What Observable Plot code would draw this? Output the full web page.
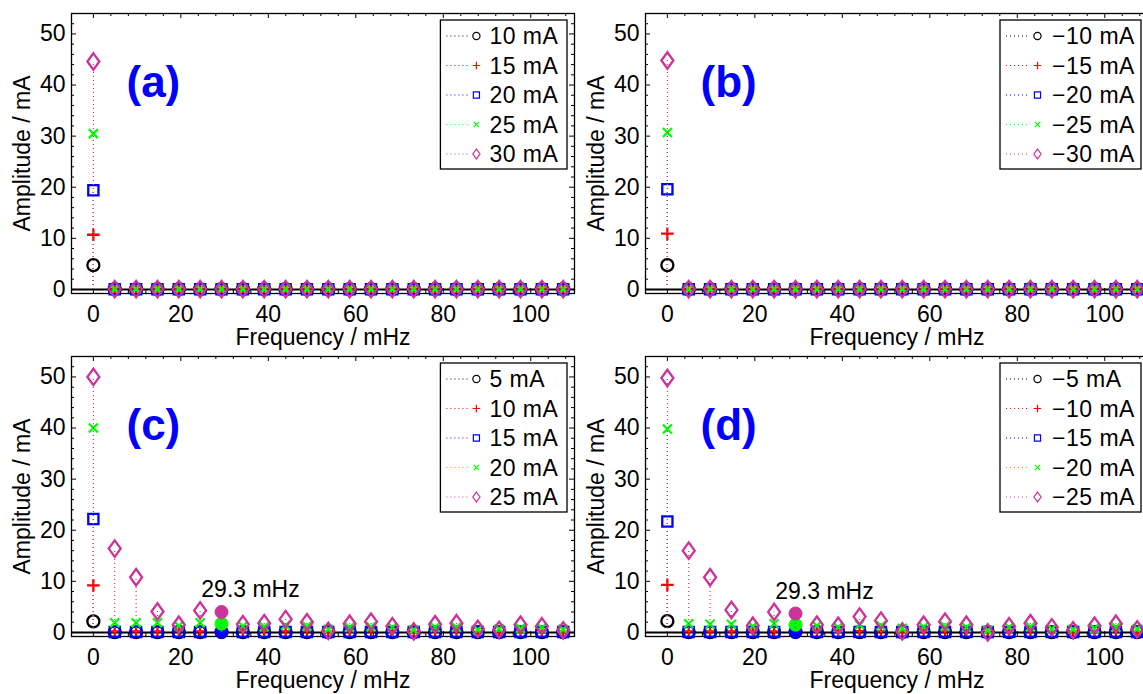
<!DOCTYPE html>
<html><head><meta charset="utf-8">
<script src="https://cdn.jsdelivr.net/npm/d3@7"></script>
<script src="https://cdn.jsdelivr.net/npm/@observablehq/plot@0.6"></script>
<style>
html,body{margin:0;padding:0;background:#fff;width:1143px;height:694px;overflow:hidden;}
#wrap{position:relative;width:1143px;height:694px;overflow:hidden;background:#fff;}
.panel{position:absolute;width:576px;height:351px;}
</style></head><body><div id="wrap"></div>
<script>
// ---------- data ----------
const freq = [0, 4.88, 9.77, 14.65, 19.53, 24.41, 29.30, 34.18, 39.06, 43.95, 48.83, 53.71, 58.59, 63.48, 68.36, 73.24, 78.13, 83.01, 87.89, 92.77, 97.66, 102.54, 107.42];

const a10 = [4.75, 0.03,0.03,0.03,0.03,0.03,0.03,0.03,0.03,0.03,0.03,0.03,0.03,0.03,0.03,0.03,0.03,0.03,0.03,0.03,0.03,0.03,0.03];
const a15 = [10.7, 0.04,0.04,0.04,0.04,0.04,0.04,0.04,0.04,0.04,0.04,0.04,0.04,0.04,0.04,0.04,0.04,0.04,0.04,0.04,0.04,0.04,0.04];
const a20 = [19.4, 0.05,0.05,0.05,0.05,0.05,0.05,0.05,0.05,0.05,0.05,0.05,0.05,0.05,0.05,0.05,0.05,0.05,0.05,0.05,0.05,0.05,0.05];
const a25 = [30.5, 0.06,0.06,0.06,0.06,0.06,0.06,0.06,0.06,0.06,0.06,0.06,0.06,0.06,0.06,0.06,0.06,0.06,0.06,0.06,0.06,0.06,0.06];
const a30 = [44.6, 0.07,0.07,0.07,0.07,0.07,0.07,0.07,0.07,0.07,0.07,0.07,0.07,0.07,0.07,0.07,0.07,0.07,0.07,0.07,0.07,0.07,0.07];

const b10 = [4.75, 0.03,0.03,0.03,0.03,0.03,0.03,0.03,0.03,0.03,0.03,0.03,0.03,0.03,0.03,0.03,0.03,0.03,0.03,0.03,0.03,0.03,0.03];
const b15 = [10.9, 0.04,0.04,0.04,0.04,0.04,0.04,0.04,0.04,0.04,0.04,0.04,0.04,0.04,0.04,0.04,0.04,0.04,0.04,0.04,0.04,0.04,0.04];
const b20 = [19.6, 0.05,0.05,0.05,0.05,0.05,0.05,0.05,0.05,0.05,0.05,0.05,0.05,0.05,0.05,0.05,0.05,0.05,0.05,0.05,0.05,0.05,0.05];
const b25 = [30.7, 0.06,0.06,0.06,0.06,0.06,0.06,0.06,0.06,0.06,0.06,0.06,0.06,0.06,0.06,0.06,0.06,0.06,0.06,0.06,0.06,0.06,0.06];
const b30 = [44.8, 0.07,0.07,0.07,0.07,0.07,0.07,0.07,0.07,0.07,0.07,0.07,0.07,0.07,0.07,0.07,0.07,0.07,0.07,0.07,0.07,0.07,0.07];

const c05 = [2.15, 0.05,0.05,0.05,0.05,0.05,0.05,0.05,0.05,0.05,0.05,0.05,0.05,0.05,0.05,0.05,0.05,0.05,0.05,0.05,0.05,0.05,0.05];
const c10 = [9.2, 0.2,0.2,0.2,0.25,0.2,0.15,0.2,0.25,0.2,0.2,0.15,0.2,0.2,0.2,0.15,0.2,0.2,0.15,0.2,0.2,0.2,0.15];
const c15 = [22.2, 0.1,0.1,0.1,0.1,0.1,0.1,0.1,0.1,0.1,0.1,0.1,0.1,0.1,0.1,0.1,0.1,0.1,0.1,0.1,0.1,0.1,0.1];
const c20 = [40.0, 1.9,1.9,1.9,1.3,1.9,1.7,1.2,1.1,1.4,1.2,0.6,1.0,1.1,1.0,0.5,1.0,1.0,0.5,0.7,0.8,0.9,0.6];
const c25 = [50.0, 16.4,10.8,4.1,1.5,4.3,4.0,1.6,1.8,2.6,2.0,0.3,1.7,2.1,1.2,0.2,1.6,1.8,0.7,0.5,1.5,1.2,0.4];

const d05 = [2.2, 0.05,0.05,0.05,0.05,0.05,0.05,0.05,0.05,0.05,0.05,0.05,0.05,0.05,0.05,0.05,0.05,0.05,0.05,0.05,0.05,0.05,0.05];
const d10 = [9.3, 0.2,0.2,0.2,0.2,0.2,0.15,0.2,0.2,0.25,0.2,0.15,0.2,0.2,0.2,0.15,0.2,0.2,0.15,0.2,0.2,0.2,0.15];
const d15 = [21.7, 0.1,0.1,0.1,0.1,0.1,0.1,0.1,0.1,0.1,0.1,0.1,0.1,0.1,0.1,0.1,0.1,0.1,0.1,0.1,0.1,0.1,0.1];
const d20 = [39.8, 1.7,1.6,1.6,1.2,1.7,1.5,1.3,1.0,1.5,1.3,0.8,1.1,1.2,1.0,0.4,1.0,1.1,0.7,0.6,0.8,1.0,0.7];
const d25 = [49.8, 16.0,10.8,4.4,1.3,4.0,3.7,1.5,1.3,3.1,2.3,0.2,1.5,2.1,1.5,0.0,1.2,1.8,1.0,0.4,1.3,1.7,0.6];

const labelsA = ["10 mA", "15 mA", "20 mA", "25 mA", "30 mA"];
const labelsB = ["\u221210 mA", "\u221215 mA", "\u221220 mA", "\u221225 mA", "\u221230 mA"];
const labelsC = ["5 mA", "10 mA", "15 mA", "20 mA", "25 mA"];
const labelsD = ["\u22125 mA", "\u221210 mA", "\u221215 mA", "\u221220 mA", "\u221225 mA"];

const xMajor = [0, 20, 40, 60, 80, 100];
const xMinor = [4,8,12,16,24,28,32,36,44,48,52,56,64,68,72,76,84,88,92,96,104,108];
const yMajor = [0, 10, 20, 30, 40, 50];
const yMinor = [2,4,6,8,12,14,16,18,22,24,26,28,32,34,36,38,42,44,46,48,52];

const peakIndex = 6; // 29.3 mHz

// ---------- styling ----------
const colors = ["#000000", "#ff0000", "#0000ff", "#00ff00", "#cc3399"];
const symCircle = {draw(c, s){ const r = Math.sqrt(s/Math.PI); c.moveTo(r,0); c.arc(0,0,r,0,2*Math.PI); }};
const symPlus = {draw(c, s){ const r = Math.sqrt(s/Math.PI)*1.05; c.moveTo(-r,0); c.lineTo(r,0); c.moveTo(0,-r); c.lineTo(0,r); }};
const symSquare = {draw(c, s){ const r = Math.sqrt(s/Math.PI)*0.85; c.rect(-r,-r,2*r,2*r); }};
const symTimes = {draw(c, s){ const r = Math.sqrt(s/Math.PI)*0.75; c.moveTo(-r,-r); c.lineTo(r,r); c.moveTo(-r,r); c.lineTo(r,-r); }};
const symDiamond = {draw(c, s){ const r = Math.sqrt(s/Math.PI); c.moveTo(0,-1.37*r); c.lineTo(r,0); c.lineTo(0,1.37*r); c.lineTo(-r,0); c.closePath(); }};
const symbols = [symCircle, symPlus, symSquare, symTimes, symDiamond];

const W = 576, H = 351, ML = 71, MR = 2, MT = 13, MB = 58;
const PW = W - ML - MR, PH = H - MT - MB;
const FONT = "'Liberation Sans', Arial, Helvetica, sans-serif";

function makePanel(cfg) {
  const marks = [];
  marks.push(Plot.frame({stroke: "black", strokeWidth: 1.3}));
  // inward ticks, all four sides
  marks.push(Plot.ruleX(xMajor, {x: d => d, insetTop: PH - 5, stroke: "black", strokeWidth: 1}));
  marks.push(Plot.ruleX(xMinor, {x: d => d, insetTop: PH - 3, stroke: "black", strokeWidth: 1}));
  marks.push(Plot.ruleX(xMajor, {x: d => d, insetBottom: PH - 5, stroke: "black", strokeWidth: 1}));
  marks.push(Plot.ruleX(xMinor, {x: d => d, insetBottom: PH - 3, stroke: "black", strokeWidth: 1}));
  marks.push(Plot.ruleY(yMajor, {y: d => d, insetRight: PW - 5, stroke: "black", strokeWidth: 1}));
  marks.push(Plot.ruleY(yMinor, {y: d => d, insetRight: PW - 3, stroke: "black", strokeWidth: 1}));
  marks.push(Plot.ruleY(yMajor, {y: d => d, insetLeft: PW - 5, stroke: "black", strokeWidth: 1}));
  marks.push(Plot.ruleY(yMinor, {y: d => d, insetLeft: PW - 3, stroke: "black", strokeWidth: 1}));
  // tick labels
  marks.push(Plot.text(xMajor, {x: d => d, frameAnchor: "bottom", dy: 12, lineAnchor: "top", textAnchor: "middle", text: d => String(d), fontSize: 23, fill: "black"}));
  marks.push(Plot.text(yMajor, {y: d => d, frameAnchor: "left", dx: -6, textAnchor: "end", text: d => String(d), fontSize: 23, fill: "black"}));
  // axis titles
  marks.push(Plot.text(["Frequency / mHz"], {frameAnchor: "bottom", dy: 51, lineAnchor: "bottom", textAnchor: "middle", fontSize: 23, fill: "black", letterSpacing: "0.5px"}));
  marks.push(Plot.text(["Amplitude / mA"], {frameAnchor: "left", dx: -49, rotate: -90, lineAnchor: "middle", textAnchor: "middle", fontSize: 23, fill: "black", letterSpacing: "0.6px"}));
  // baseline
  marks.push(Plot.ruleY([0], {stroke: "black", strokeWidth: 2}));
  // stems + markers per series
  cfg.series.forEach((vals, i) => {
    const rows = freq.map((f, j) => ({f, v: vals[j], j}));
    marks.push(Plot.ruleX(rows, {x: "f", y1: 0, y2: "v", stroke: colors[i], strokeWidth: 1.2, strokeDasharray: "1,3"}));
    const normal = cfg.peak == null ? rows : rows.filter(d => d.j !== cfg.peak);
    marks.push(Plot.dot(normal, {x: "f", y: "v", symbol: symbols[i], r: 6, stroke: colors[i], strokeWidth: 2.3, fill: "none"}));
    if (cfg.peak != null) {
      marks.push(Plot.dot(rows.filter(d => d.j === cfg.peak), {x: "f", y: "v", r: 6.5, fill: colors[i], stroke: colors[i], strokeWidth: 1}));
    }
  });
  if (cfg.peak != null) {
    const top = cfg.series[cfg.series.length - 1];
    marks.push(Plot.text([cfg.peak], {x: j => freq[j], y: j => top[j], dx: 29, dy: -15, lineAnchor: "bottom", textAnchor: "middle",
      text: j => d3.format(".1f")(freq[j]) + " mHz", fontSize: 23, fill: "black"}));
  }
  // panel tag
  marks.push(Plot.text([cfg.tag], {frameAnchor: "top-left", dx: 55, dy: 83, lineAnchor: "bottom", textAnchor: "start",
    fontSize: 44, fontWeight: "bold", fill: "#0000ff"}));

  const svg = Plot.plot({
    width: W, height: H,
    marginLeft: ML, marginRight: MR, marginTop: MT, marginBottom: MB,
    x: {domain: [-5, 110], axis: null},
    y: {domain: [-0.8, 54], axis: null},
    style: {background: "none", overflow: "visible", maxWidth: "none", fontFamily: FONT, fontSize: "23px", color: "black"},
    marks
  });

  // legend box (top-right inside frame)
  const right = ML + PW - 7, left = right - cfg.legendW, boxTop = MT + 7;
  const g = d3.select(svg).append("g").attr("font-family", FONT).attr("text-anchor", "start");
  g.append("rect").attr("x", left).attr("y", boxTop).attr("width", cfg.legendW).attr("height", 149)
    .attr("fill", "white").attr("stroke", "black").attr("stroke-width", 1.3);
  cfg.labels.forEach((lab, i) => {
    const cy = boxTop + 16 + i * 29.5;
    g.append("line").attr("x1", left + 6).attr("x2", left + 29).attr("y1", cy).attr("y2", cy)
      .attr("stroke", colors[i]).attr("stroke-width", 1).attr("stroke-dasharray", "1,3");
    g.append("path").attr("d", d3.symbol(symbols[i], Math.PI * 3.6 * 3.6)())
      .attr("transform", `translate(${left + cfg.legendMarkX},${cy})`)
      .attr("fill", "none").attr("stroke", colors[i]).attr("stroke-width", 1.2);
    g.append("text").attr("x", left + cfg.legendTextX).attr("y", cy).attr("dy", "0.36em")
      .attr("text-anchor", "start")
      .attr("font-size", 23).attr("letter-spacing", "0.5px").attr("fill", "black").text(lab);
  });

  const div = document.createElement("div");
  div.className = "panel";
  div.style.left = cfg.left + "px";
  div.style.top = cfg.top + "px";
  div.appendChild(svg);
  document.getElementById("wrap").appendChild(div);
}

makePanel({left: 0, top: 0, series: [a10, a15, a20, a25, a30], labels: labelsA, tag: "(a)", legendW: 126.6, legendMarkX: 36, legendTextX: 49, peak: null});
makePanel({left: 574, top: 0, series: [b10, b15, b20, b25, b30], labels: labelsB, tag: "(b)", legendW: 141, legendMarkX: 37.5, legendTextX: 52, peak: null});
makePanel({left: 0, top: 343, series: [c05, c10, c15, c20, c25], labels: labelsC, tag: "(c)", legendW: 126.6, legendMarkX: 36, legendTextX: 49, peak: peakIndex});
makePanel({left: 574, top: 343, series: [d05, d10, d15, d20, d25], labels: labelsD, tag: "(d)", legendW: 141, legendMarkX: 37.5, legendTextX: 52, peak: peakIndex});
</script>
</body></html>
